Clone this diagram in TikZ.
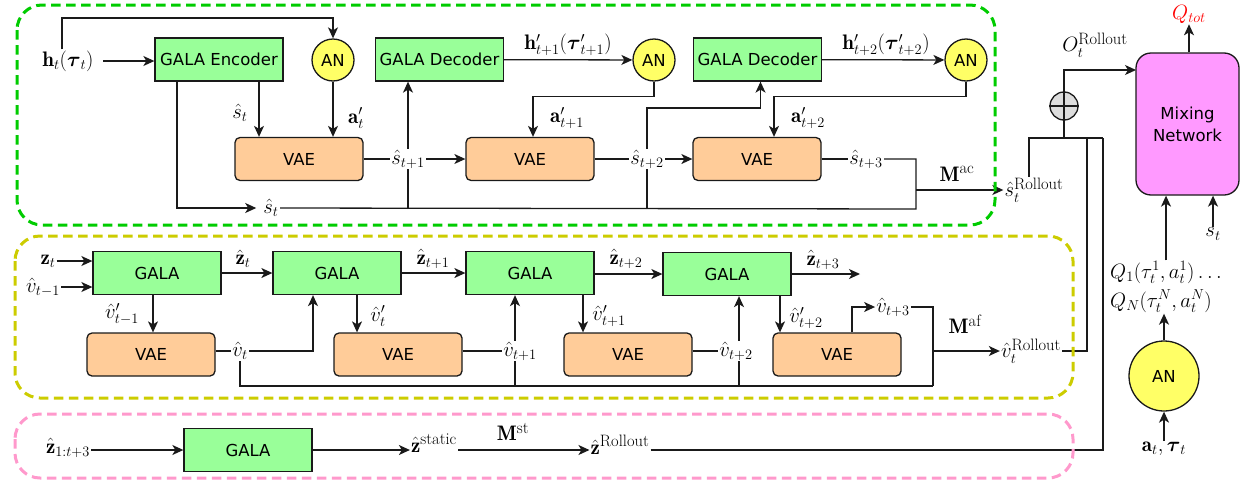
\documentclass[tikz,border=0pt]{standalone}
\usepackage{amsmath}
\usepackage{fontspec}
\setsansfont{DejaVu Sans}
\usetikzlibrary{arrows.meta,backgrounds}
\DeclareMathSizes{21}{21}{15}{11}
\DeclareMathSizes{22}{22}{15.5}{11}

\definecolor{galafill}{HTML}{99FF99}
\definecolor{vaefill}{HTML}{FFCC99}
\definecolor{anfill}{HTML}{FFFF66}
\definecolor{mixfill}{HTML}{FF99FF}
\definecolor{opfill}{HTML}{DDDDDD}
\definecolor{grnzone}{HTML}{00CC00}
\definecolor{ylwzone}{HTML}{CCCC00}
\definecolor{pnkzone}{HTML}{FF99CC}
\definecolor{ink}{HTML}{1A1A1A}

% superscript words set upright, a little smaller than the base
\newcommand{\supw}[1]{\mbox{\fontsize{16.5}{16.5}\selectfont #1}}

\tikzset{
  base/.style={draw=ink, line width=1.3pt, inner sep=0pt,
               font=\sffamily\fontsize{16.5}{20}\selectfont},
  gala/.style={base, rectangle, fill=galafill, minimum width=128pt, minimum height=43pt},
  vae/.style={base, rectangle, rounded corners=5pt, fill=vaefill,
              minimum width=128pt, minimum height=43pt},
  an/.style={base, circle, fill=anfill, minimum size=42pt},
  lab/.style={font=\fontsize{21}{24}\selectfont, inner sep=1pt},
  wlab/.style={lab, fill=white},
  wire/.style={draw=ink, line width=1.3pt},
  arr/.style={wire, -{Stealth[length=11pt,width=10pt,inset=3pt]}},
  zone/.style={line width=3pt, dash pattern=on 9.5pt off 5.5pt, rounded corners=25pt},
}

\begin{document}
\begin{tikzpicture}[x=1pt,y=-1pt]
\useasboundingbox (0,0) rectangle (1246,485);

% ---------------- dashed groups ----------------
\draw[zone, grnzone] (17,5) rectangle (995,225);
\draw[zone, ylwzone] (15,236) rectangle (1073,398);
\draw[zone, pnkzone] (15,414) rectangle (1073,478);

% ---------------- top row: encoder / decoder rollout ----------------
\node[lab] (hlab) at (68,61) {$\mathbf{h}_t(\boldsymbol{\tau}_t)$};
\node[gala] (enc) at (219,59.5) {GALA Encoder};
\node[an] (an1) at (333,60) {AN};
\node[gala] (dec1) at (439.5,59.5) {GALA Decoder};
\node[an] (an2) at (654,60) {AN};
\node[gala] (dec2) at (757.5,59.5) {GALA Decoder};
\node[an] (an3) at (966,60) {AN};

\node[vae] (vae1) at (299,159) {VAE};
\node[vae] (vae2) at (530,159) {VAE};
\node[vae] (vae3) at (757,159) {VAE};

\node[lab] (sin) at (240,113) {$\hat{s}_t$};
\node[lab] (ain) at (356,118) {$\mathbf{a}'_t$};
\node[lab] (a1in) at (567,118) {$\mathbf{a}'_{t+1}$};
\node[lab] (a2in) at (808,118) {$\mathbf{a}'_{t+2}$};
\node[lab] (h1lab) at (568,45) {$\mathbf{h}'_{t+1}(\boldsymbol{\tau}'_{t+1})$};
\node[lab] (h2lab) at (886,45) {$\mathbf{h}'_{t+2}(\boldsymbol{\tau}'_{t+2})$};

\node[wlab] (s1) at (408,159) {$\hat{s}_{t+1}$};
\node[wlab] (s2) at (647,159) {$\hat{s}_{t+2}$};
\node[wlab] (s3) at (866,159) {$\hat{s}_{t+3}$};
\node[wlab] (sbl) at (271,208) {$\hat{s}_t$};

\node[lab] (mac) at (957,174) {$\mathbf{M}^{\supw{ac}}$};
\node[lab] (sroll) at (1034,190) {$\hat{s}_t^{\supw{Rollout}}$};

\coordinate (hup) at (62,18);
\coordinate (hout) at (103,61);
\coordinate (acb) at (916,209);
\coordinate (acj) at (916,190);
\coordinate (k2) at (647,108);

% ---------------- middle row: agent features ----------------
\node[lab] (zt) at (48,261) {$\mathbf{z}_t$};
\node[lab] (vtm) at (43,287) {$\hat{v}_{t-1}$};
\node[gala] (g1) at (157,273) {GALA};
\node[gala] (g2) at (337,273) {GALA};
\node[gala] (g3) at (530,273) {GALA};
\node[gala] (g4) at (727,274) {GALA};

\node[vae] (va) at (151,354.5) {VAE};
\node[vae] (vb) at (398,354.5) {VAE};
\node[vae] (vc) at (628,354.5) {VAE};
\node[vae] (vd) at (837,354.5) {VAE};

\node[lab] (zh0) at (243,259) {$\hat{\mathbf{z}}_t$};
\node[lab] (zh1) at (433,259) {$\hat{\mathbf{z}}_{t+1}$};
\node[lab] (zh2) at (626,259) {$\hat{\mathbf{z}}_{t+2}$};
\node[lab] (zh3) at (823,260) {$\hat{\mathbf{z}}_{t+3}$};

\node[lab] (vp0) at (122,314) {$\hat{v}'_{t-1}$};
\node[lab] (vp1) at (378,316) {$\hat{v}'_t$};
\node[lab] (vp2) at (609,316) {$\hat{v}'_{t+1}$};
\node[lab] (vp3) at (806,318) {$\hat{v}'_{t+2}$};

\node[wlab] (v0) at (240,351) {$\hat{v}_t$};
\node[wlab] (v1) at (520,351) {$\hat{v}_{t+1}$};
\node[wlab] (v2) at (736,351) {$\hat{v}_{t+2}$};
\node[lab] (v3) at (893,307) {$\hat{v}_{t+3}$};

\node[lab] (maf) at (965,324) {$\mathbf{M}^{\supw{af}}$};
\node[lab] (vroll) at (1031,351) {$\hat{v}_t^{\supw{Rollout}}$};

\coordinate (zout) at (860,274);
\coordinate (vbl) at (933,386);
\coordinate (afj) at (933,351);
\coordinate (c1) at (515,386);
\coordinate (c2) at (739,386);

% ---------------- bottom row: static features ----------------
\node[lab] (z13) at (68,448) {$\hat{\mathbf{z}}_{1:t+3}$};
\node[gala] (g5) at (248,450) {GALA};
\node[lab] (zs) at (434,443) {$\hat{\mathbf{z}}^{\supw{static}}$};
\node[lab] (mst) at (513,432) {$\mathbf{M}^{\supw{st}}$};
\node[lab] (zr) at (620,445) {$\hat{\mathbf{z}}^{\supw{Rollout}}$};

% ---------------- mixing ----------------
\node[base, rectangle, rounded corners=15pt, fill=mixfill, minimum width=103pt,
      minimum height=142pt, align=center] (mix) at (1187.5,124) {Mixing\\[2pt]Network};
\node[lab, text=red, font=\fontsize{22}{24}\selectfont] (qtot) at (1189,14) {$Q_{tot}$};
\node[base, circle, fill=opfill, minimum size=28pt] (op) at (1064,106) {};
\node[lab] (olab) at (1095,45) {$O_t^{\supw{Rollout}}$};
\node[lab, align=left, font=\fontsize{22}{29}\selectfont] (qq) at (1166,287)
     {$Q_1(\tau_t^1, a_t^1)\ldots$\\$Q_N(\tau_t^N, a_t^N)$};
\node[an, minimum size=70pt] (an4) at (1164,376) {AN};
\node[lab] (atl) at (1164,449) {$\mathbf{a}_t, \boldsymbol{\tau}_t$};
\node[lab] (st) at (1213,234) {$s_t$};

\coordinate (bus) at (1103,138);
\coordinate (vbus) at (1087,138);
\coordinate (oin) at (1136,70);

% ---------------- connectors ----------------
\begin{scope}[on background layer]
  % top row
  \draw[arr] (hup |- hlab.north) -- (hup) -| (an1.north);
  \draw[arr] (hout) -- (hout -| enc.west);
  \draw[arr] ([xshift=40]enc.south) -- ([xshift=-40]vae1.north);
  \draw[arr] (an1) -- (an1 |- vae1.north);
  \draw[arr] ([xshift=-42]enc.south) |- ([xshift=-6]sbl.west);
  \draw[wire] (s3.east) -| (acb) -- (sbl.east);
  \draw[arr] (acj) -- (sroll.west);
  \draw[wire] (vae1) -- (s1);
  \draw[arr] (s1) -- (vae2);
  \draw[arr] (s1 |- acb) -- (s1 |- dec1.south);
  \draw[wire] (vae2) -- (s2);
  \draw[arr] (s2) -- (vae3);
  \draw[arr] (s2 |- acb) -- (k2) -| ([xshift=3]dec2.south);
  \draw[arr] (dec1) -- (an2);
  \draw[arr] (an2.south) -- ++(0,15) -| ([xshift=3]vae2.north);
  \draw[arr] (dec2) -- (an3);
  \draw[arr] (an3.south) -- ++(0,15) -| ([xshift=17]vae3.north);
  \draw[wire] (vae3) -- (s3);

  % middle row
  \draw[arr] (zt.east) -- (zt.east -| g1.west);
  \draw[arr] (vtm.east) -- (vtm.east -| g1.west);
  \draw[arr] ([xshift=-4]g1.south) -- ([xshift=2]va.north);
  \draw[wire] (va.east |- v0) -- (v0);
  \draw[arr] (v0.east) -| ([xshift=-24]g2.south);
  \draw[wire] (v0.south) |- (vbl);
  \draw[arr] (g1) -- (g2);
  \draw[arr] ([xshift=20]g2.south) -- ([xshift=-41]vb.north);
  \draw[wire] (vb.east |- v1) -- (v1);
  \draw[arr] (c1) -- (c1 |- g3.south);
  \draw[arr] (g2) -- (g3);
  \draw[arr] ([xshift=53]g3.south) -- ([xshift=-45]vc.north);
  \draw[wire] (vc.east |- v2) -- (v2);
  \draw[arr] (c2) -- (c2 |- g4.south);
  \draw[arr] (g3.east |- g4) -- (g4);
  \draw[arr] ([xshift=53]g4.south) -- ([xshift=-57]vd.north);
  \draw[arr] (g4) -- (zout);
  \draw[arr] ([xshift=15]vd.north) |- (v3.west);
  \draw[wire] (v3.east) -| (vbl);
  \draw[arr] (afj) -- (vroll.west);

  % bottom row
  \draw[arr] (z13.east |- g5) -- (g5);
  \draw[arr] (g5) -- (zs.west |- g5);
  \draw[arr] (zs.east |- g5) -- (zr.west |- g5);
  \draw[wire] (zr.east |- g5) -| (bus);

  % rollout bus and mixing network
  \draw[wire] ([xshift=-5]sroll.north) |- (bus);
  \draw[wire] (vroll.east) -| (vbus);
  \draw[wire] (op.south) -- (op.south |- bus);
  \draw[arr] (op.north) |- (oin);
  \draw[arr] (mix.north -| qtot) -- (qtot.south);
  \draw[arr] (qq.north) -- (qq.north |- mix.south);
  \draw[arr] (st.north) -- (st.north |- mix.south);
  \draw[arr] (an4) -- (an4 |- qq.south);
  \draw[arr] (atl) -- (an4);
\end{scope}
\draw[ink, line width=1.3pt] (op.north) -- (op.south) (op.west) -- (op.east);
\end{tikzpicture}
\end{document}
